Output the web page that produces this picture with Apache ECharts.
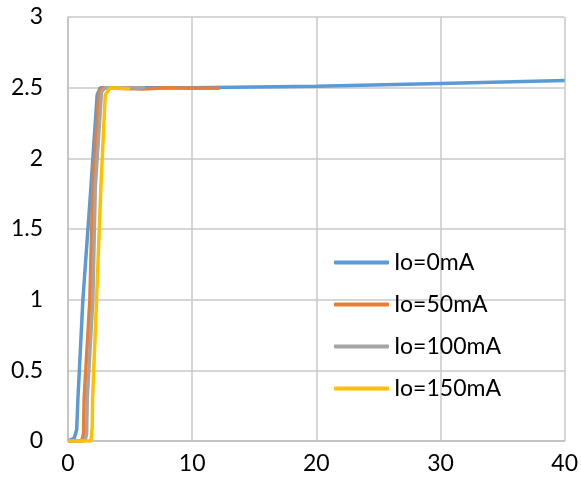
<!DOCTYPE html>
<html><head><meta charset="utf-8">
<script src="https://cdn.jsdelivr.net/npm/echarts@6/dist/echarts.min.js"></script>
<style>html,body{margin:0;padding:0;background:#fff}#c{width:581px;height:491px}</style>
</head><body><div id="c"></div>
<script>
var seriesNames = ['Io=0mA', 'Io=50mA', 'Io=100mA', 'Io=150mA'];
var io0 = [[0,0],[0.5,0.02],[0.7,0.08],[0.8,0.3],[1.2,1.0],[1.85,1.8],[2.35,2.45],[2.6,2.5],[4,2.5],[10,2.5],[20,2.51],[30,2.53],[40,2.55]];
var io50 = [[0,0],[1.1,0],[1.25,0.05],[1.3,0.3],[1.76,1.0],[2.0,1.8],[2.5,2.47],[2.8,2.5],[6,2.49],[8,2.5],[10,2.495],[12.2,2.495]];
var io100 = [[0,0],[1.35,0],[1.5,0.05],[1.55,0.3],[2.0,1.0],[2.2,1.8],[2.7,2.47],[3.0,2.5],[6.2,2.5]];
var io150 = [[0,0],[1.85,0],[1.95,0.1],[1.98,0.3],[2.3,1.0],[2.65,1.8],[3.0,2.45],[3.4,2.5],[5,2.49]];
var colors = ['#5B9BD5', '#ED7D31', '#A5A5A5', '#FFC000'];
var allData = [io0, io50, io100, io150];

var chart = echarts.init(document.getElementById('c'));
var font = 'Lato, Open Sans, sans-serif';
chart.setOption({
  animation: false,
  grid: {left: 68, right: 14, top: 17, bottom: 50},
  xAxis: {
    type: 'value', min: 0, max: 40, interval: 10,
    axisLine: {show: true, lineStyle: {color: '#BFBFBF', width: 1.5}},
    axisTick: {show: false},
    splitLine: {show: true, lineStyle: {color: '#C8C8C8', width: 1.5}},
    axisLabel: {color: '#000', fontSize: 23, fontFamily: font, margin: 11}
  },
  yAxis: {
    type: 'value', min: 0, max: 3, interval: 0.5,
    axisLine: {show: true, lineStyle: {color: '#BFBFBF', width: 1.5}},
    axisTick: {show: false},
    splitLine: {show: true, lineStyle: {color: '#C8C8C8', width: 1.5}},
    axisLabel: {color: '#000', fontSize: 23, fontFamily: font, margin: 25}
  },
  legend: {
    orient: 'vertical', left: 329, top: 246,
    itemWidth: 55, itemHeight: 4, itemGap: 19, icon: 'roundRect',
    textStyle: {color: '#000', fontSize: 23, lineHeight: 23, fontFamily: font},
    data: seriesNames
  },
  series: allData.map(function(d, i) {
    return {
      name: seriesNames[i], type: 'line', data: d,
      showSymbol: false, symbol: 'none',
      lineStyle: {color: colors[i], width: 3.5},
      itemStyle: {color: colors[i]}
    };
  })
});
</script></body></html>
